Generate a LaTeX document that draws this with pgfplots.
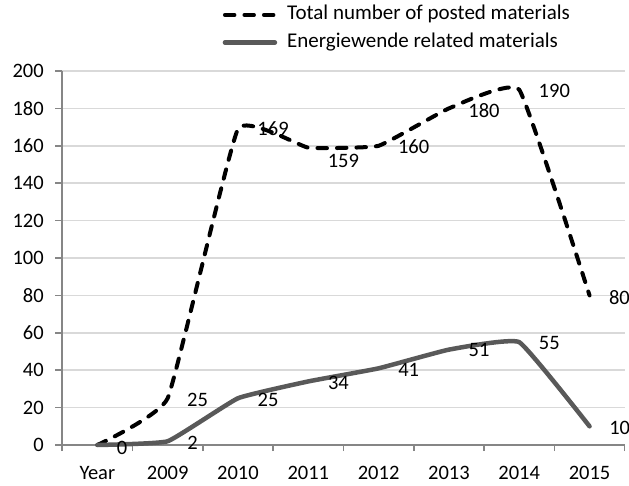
\documentclass[border=0pt]{standalone}
\usepackage{fontspec}
\setmainfont{Carlito}
\usepackage{pgfplots}
\usepackage{pgfplotstable}
\pgfplotsset{compat=1.18}
\usetikzlibrary{calc}
\definecolor{gridc}{HTML}{D9D9D9}
\definecolor{axc}{HTML}{868686}
\definecolor{enc}{HTML}{595959}

\pgfplotstableread{
x y dy lab
0 0 3 0
1 25 2 25
2 169 0 169
3 159 13 159
4 160 1 160
5 180 2 180
6 190 1 190
7 80 2 80
}\totaltab
\pgfplotstableread{
x y dy lab
0 0 3 {}
1 2 2 2
2 25 2 25
3 34 1 34
4 41 2 41
5 51 0.5 51
6 55 1 55
7 10 1.5 10
}\energtab

\begin{document}
\begin{tikzpicture}[font=\fontsize{20.5bp}{24bp}\selectfont]
\begin{axis}[
 scale only axis, width=562.5bp, height=374bp,
 xmin=-0.5, xmax=7.5, ymin=0, ymax=200,
 axis x line*=bottom, axis y line*=left,
 x axis line style={-, draw=axc, line width=1.5bp},
 y axis line style={-, draw=axc, line width=1.5bp},
 xtick={0,...,7}, xticklabels={Year,2009,2010,2011,2012,2013,2014,2015},
 minor xtick={-0.5,0.5,...,7.5},
 major x tick style={draw=none},
 minor x tick style={draw=axc, line width=1.5bp},
 minor tick length=6bp,
 ytick={0,20,...,200},
 major tick length=7bp,
 y tick style={draw=axc, line width=1.5bp},
 tick align=outside,
 tick label style={font=\fontsize{20.5bp}{24bp}\selectfont},
 yticklabel style={xshift=-8bp},
 xticklabel style={yshift=-11bp},
 ymajorgrids, grid style={draw=gridc, line width=1.5bp},
 clip=false,
 /pgf/number format/assume math mode=true,
 legend style={draw=none, fill=none, inner sep=0pt, outer sep=0pt,
   at={(axis description cs:0,1)}, anchor=north west, xshift=160.5bp, yshift=66bp,
   row sep=7.5bp,
   font=\fontsize{21bp}{24bp}\selectfont,
   nodes={inner sep=0pt, text height=15bp, text depth=5bp},
   /tikz/every odd column/.append style={column sep=10bp}},
 legend cell align=left,
 legend image code/.code={\draw[#1] (2bp,0bp) -- (52bp,0bp);},
]
\addplot[black, line width=4bp, dash pattern=on 9.5bp off 10bp, line cap=round, smooth, tension=0.2,
 nodes near coords, point meta=explicit symbolic,
 visualization depends on={\thisrow{dy} \as \dy},
 every node near coord/.append style={anchor=west, inner sep=0pt, xshift=17.5bp, yshift={-\dy*1bp}, text=black}]
 table[x=x, y=y, meta=lab] {\totaltab};
\addlegendentry{Total number of posted materials}
\addplot[enc, line width=4.5bp, line cap=round, smooth, tension=0.2,
 nodes near coords, point meta=explicit symbolic,
 visualization depends on={\thisrow{dy} \as \dy},
 every node near coord/.append style={anchor=west, inner sep=0pt, xshift=17.5bp, yshift={-\dy*1bp}, text=black}]
 table[x=x, y=y, meta=lab] {\energtab};
\addlegendentry{Energiewende related materials}
\coordinate (bl) at (rel axis cs:0,0);
\end{axis}
\pgfresetboundingbox
\path ($(bl)+(-62.2bp,-41bp)$) rectangle ($(bl)+(566.8bp,445bp)$);
\end{tikzpicture}
\end{document}
